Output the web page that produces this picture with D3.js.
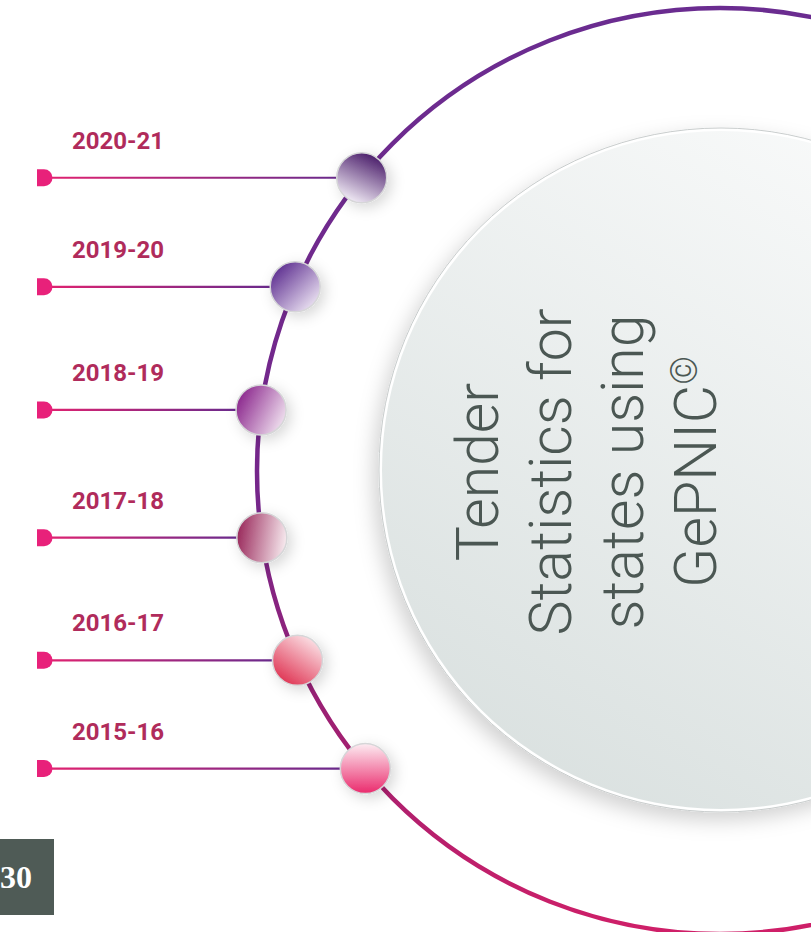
<!DOCTYPE html>
<html>
<head>
<meta charset="utf-8">
<script src="https://cdn.jsdelivr.net/npm/d3@7"></script>
<style>
  html, body { margin: 0; padding: 0; background: #fff; }
  svg { display: block; }
</style>
</head>
<body>
<div id="chart"></div>
<script>
// Data
const years = ["2020-21", "2019-20", "2018-19", "2017-18", "2016-17", "2015-16"];
const titleLines = ["Tender", "Statistics for", "states using", "GePNIC"];
const titleMark = "©";
const pageNumber = "30";

// Layout
const W = 811, H = 932;
const ring = {cx: 720, cy: 471, r: 463};
const hub = {cx: 721, cy: 470, r: 339};
const ballR = 25;

// shading of each ball: dark colour -> light colour, direction of the gradient
const ballShades = {
  "2020-21": {dark: "#4a1d6a", light: "#f4eff8", from: [0.75, 0.05], to: [0.3, 1]},
  "2019-20": {dark: "#5a2a8e", light: "#eee6f4", from: [0.1, 0.1], to: [0.9, 0.9]},
  "2018-19": {dark: "#8a258c", light: "#f5eaf4", from: [0, 0.3], to: [1, 0.8]},
  "2017-18": {dark: "#9a2a5c", light: "#f8ecf0", from: [0, 0.45], to: [1, 0.6]},
  "2016-17": {dark: "#de2c4c", light: "#fce6ea", from: [0.2, 1], to: [0.85, 0.05]},
  "2015-16": {dark: "#ea2a6c", light: "#fdecf2", from: [0.5, 1], to: [0.5, 0]}
};

let svg = d3.select("#chart")
  .append("svg")
    .attr("width", W)
    .attr("height", H);

let defs = svg.append("defs");

// Filters
let softShadow = defs.append("filter").attr("id", "hubShadow")
  .attr("x", "-20%").attr("y", "-20%").attr("width", "140%").attr("height", "140%");
softShadow.append("feDropShadow")
  .attr("dx", -5).attr("dy", 8).attr("stdDeviation", 10)
  .attr("flood-color", "#000").attr("flood-opacity", 0.18);

let ballShadow = defs.append("filter").attr("id", "ballShadow")
  .attr("x", "-80%").attr("y", "-80%").attr("width", "260%").attr("height", "260%");
ballShadow.append("feDropShadow")
  .attr("dx", 4).attr("dy", 4).attr("stdDeviation", 7)
  .attr("flood-color", "#000").attr("flood-opacity", 0.16);

// Gradients
let ringGrad = defs.append("linearGradient").attr("id", "ringGrad")
  .attr("gradientUnits", "userSpaceOnUse")
  .attr("x1", 0).attr("y1", 0).attr("x2", 0).attr("y2", H);
[[0, "#6a2c90"], [0.55, "#76268a"], [0.8, "#a21f70"], [1, "#cf1f68"]].forEach(s => {
  ringGrad.append("stop").attr("offset", s[0]).attr("stop-color", s[1]);
});

let hubGrad = defs.append("linearGradient").attr("id", "hubGrad")
  .attr("x1", 0.8).attr("y1", 0).attr("x2", 0.2).attr("y2", 1);
hubGrad.append("stop").attr("offset", 0).attr("stop-color", "#fafbfb");
hubGrad.append("stop").attr("offset", 1).attr("stop-color", "#d9e0df");

// angle of each ball on the ring, in degrees from the left-most point
let angle = d3.scalePoint()
  .domain(years)
  .range([-39.3, 40]);

let ballPos = (yr) => {
  let a = angle(yr) * Math.PI / 180;
  return [ring.cx - ring.r * Math.cos(a), ring.cy + ring.r * Math.sin(a)];
};

// Big ring
svg.append("circle")
  .attr("cx", ring.cx).attr("cy", ring.cy).attr("r", ring.r)
  .attr("fill", "none")
  .attr("stroke", "url(#ringGrad)")
  .attr("stroke-width", 4.5);

// Inner hub
svg.append("circle")
  .attr("cx", hub.cx).attr("cy", hub.cy).attr("r", hub.r + 3)
  .attr("fill", "#fff")
  .attr("stroke", "#c9cdcd")
  .attr("stroke-width", 1)
  .attr("filter", "url(#hubShadow)");
svg.append("circle")
  .attr("cx", hub.cx).attr("cy", hub.cy).attr("r", hub.r)
  .attr("fill", "url(#hubGrad)");

// Title, rotated to read bottom to top
let title = svg.append("text")
  .attr("transform", `translate(498, 472) rotate(-90)`)
  .attr("text-anchor", "middle")
  .style("font-family", "Roboto, 'Noto Sans', sans-serif")
  .style("font-weight", 300)
  .style("font-size", "59px")
  .attr("fill", "#4b5753");

titleLines.forEach((line, i) => {
  title.append("tspan")
    .attr("x", 0)
    .attr("y", i * 72.5)
    .text(line);
});
title.append("tspan")
  .attr("dy", -19)
  .style("font-size", "36px")
  .text(titleMark);

// Connectors, balls, labels
let rows = svg.append("g").selectAll("g")
  .data(years)
  .enter()
  .append("g");

rows.each(function(yr, i) {
  let g = d3.select(this);
  let [bx, by] = ballPos(yr);

  let lg = defs.append("linearGradient").attr("id", `lineGrad${i}`)
    .attr("gradientUnits", "userSpaceOnUse")
    .attr("x1", 40).attr("y1", 0).attr("x2", bx - ballR).attr("y2", 0);
  lg.append("stop").attr("offset", 0).attr("stop-color", "#e4226f");
  lg.append("stop").attr("offset", 1).attr("stop-color", "#6a2a8c");

  g.append("line")
    .attr("x1", 44).attr("x2", bx - ballR + 2)
    .attr("y1", by).attr("y2", by)
    .attr("stroke", `url(#lineGrad${i})`)
    .attr("stroke-width", 2.2);

  // half-round end dot
  g.append("path")
    .attr("d", `M37,${by - 8.5} H44 A8.5,8.5 0 0 1 44,${by + 8.5} H37 Z`)
    .attr("fill", "#e8217a");

  let sh = ballShades[yr];
  let bg = defs.append("linearGradient").attr("id", `ballGrad${i}`)
    .attr("x1", sh.from[0]).attr("y1", sh.from[1])
    .attr("x2", sh.to[0]).attr("y2", sh.to[1]);
  bg.append("stop").attr("offset", 0).attr("stop-color", sh.dark);
  bg.append("stop").attr("offset", 1).attr("stop-color", sh.light);

  g.append("circle")
    .attr("cx", bx).attr("cy", by).attr("r", ballR)
    .attr("fill", `url(#ballGrad${i})`)
    .attr("stroke", "#d6d6d8")
    .attr("stroke-width", 1.5)
    .attr("filter", "url(#ballShadow)");

  g.append("text")
    .attr("x", 72)
    .attr("y", by - 29)
    .style("font-family", "Roboto, 'Noto Sans', sans-serif")
    .style("font-weight", 700)
    .style("font-size", "24px")
    .attr("fill", "#b02b5b")
    .text(yr);
});

// Page number
svg.append("rect")
  .attr("x", 0).attr("y", 839)
  .attr("width", 54).attr("height", 76)
  .attr("fill", "#4f5b56");
svg.append("text")
  .attr("x", 0).attr("y", 888)
  .style("font-family", "'Liberation Serif', 'DejaVu Serif', serif")
  .style("font-weight", 700)
  .style("font-size", "32px")
  .attr("fill", "#fff")
  .text(pageNumber);
</script>
</body>
</html>
